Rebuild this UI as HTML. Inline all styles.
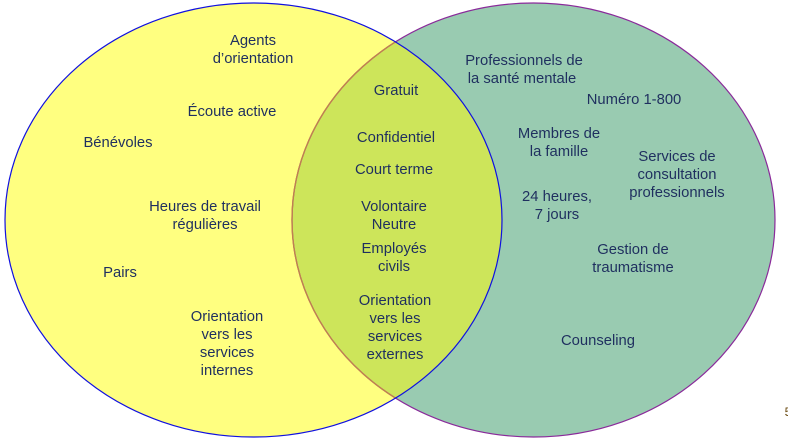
<!DOCTYPE html>
<html><head><meta charset="utf-8"><style>
html,body{margin:0;padding:0;background:#fff;}
svg{display:block}
text{font-family:"Liberation Sans",Arial,sans-serif;font-size:14.8px;fill:#1f2f5f;text-anchor:middle;}
</style></head><body>
<svg width="788" height="442" viewBox="0 0 788 442" xmlns="http://www.w3.org/2000/svg">
<defs><clipPath id="c"><ellipse cx="253.5" cy="220" rx="248.5" ry="217"/></clipPath></defs>
<ellipse cx="253.5" cy="220" rx="248.5" ry="217" fill="#ffff80"/>
<ellipse cx="533.5" cy="220" rx="241.5" ry="217" fill="#99cbb1"/>
<ellipse cx="533.5" cy="220" rx="241.5" ry="217" fill="#cde55a" clip-path="url(#c)"/>
<ellipse cx="533.5" cy="220" rx="241.5" ry="217" fill="none" stroke="#8a2a9a" stroke-width="1.2"/>
<ellipse cx="533.5" cy="220" rx="241.5" ry="217" fill="none" stroke="#c08050" stroke-width="1.4" clip-path="url(#c)"/>
<ellipse cx="253.5" cy="220" rx="248.5" ry="217" fill="none" stroke="#1010e0" stroke-width="1.2"/>
<text x="253" y="45">Agents</text>
<text x="253" y="63">d’orientation</text>
<text x="232" y="116">Écoute  active</text>
<text x="118" y="147">Bénévoles</text>
<text x="205" y="211">Heures de travail</text>
<text x="205" y="229">régulières</text>
<text x="120" y="277">Pairs</text>
<text x="227" y="321">Orientation</text>
<text x="227" y="339">vers les</text>
<text x="227" y="357">services</text>
<text x="227" y="375">internes</text>
<text x="396" y="95">Gratuit</text>
<text x="396" y="142">Confidentiel</text>
<text x="394" y="174">Court terme</text>
<text x="394" y="211">Volontaire</text>
<text x="394" y="229">Neutre</text>
<text x="394" y="253">Employés</text>
<text x="394" y="271">civils</text>
<text x="395" y="305">Orientation</text>
<text x="395" y="323">vers les</text>
<text x="395" y="341">services</text>
<text x="395" y="359">externes</text>
<text x="524" y="65">Professionnels de</text>
<text x="522" y="83">la santé mentale</text>
<text x="634" y="104">Numéro 1-800</text>
<text x="559" y="138">Membres de</text>
<text x="559" y="156">la famille</text>
<text x="677" y="161">Services de</text>
<text x="677" y="179">consultation</text>
<text x="677" y="197">professionnels</text>
<text x="557" y="201">24 heures,</text>
<text x="557" y="219">7 jours</text>
<text x="633" y="254">Gestion de</text>
<text x="633" y="272">traumatisme</text>
<text x="598" y="345">Counseling</text>
<text x="788" y="416" style="font-size:12px;fill:#6a4a10">5</text>
</svg>
</body></html>
